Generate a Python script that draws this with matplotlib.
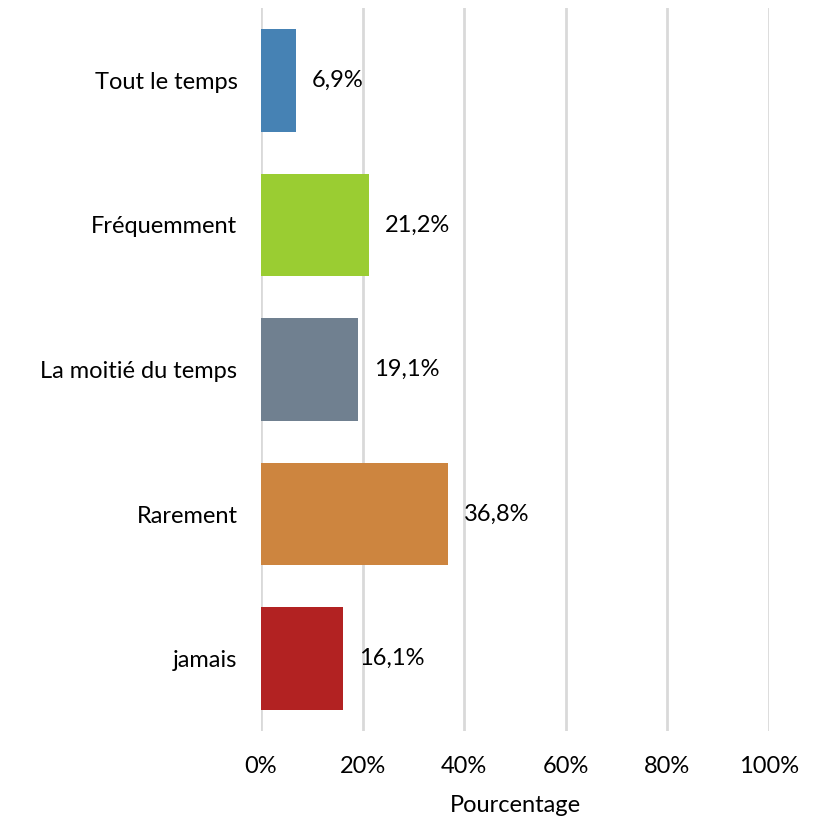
import matplotlib.pyplot as plt
from matplotlib.ticker import FuncFormatter

# Data
categories = ["Tout le temps", "Fréquemment", "La moitié du temps", "Rarement", "jamais"]
values = [6.9, 21.2, 19.1, 36.8, 16.1]
colors = ["#4682B4", "#9ACD32", "#708090", "#CD853F", "#B22222"]
xticks = [0, 20, 40, 60, 80, 100]

plt.rcParams["font.family"] = ["Lato", "DejaVu Sans"]
fs = 17

fig = plt.figure(figsize=(8.14, 8.19), dpi=100)
ax = fig.add_axes([261 / 814, 1 - 731 / 819, (769 - 261) / 814, (731 - 8) / 819])

ypos = list(range(len(categories)))
ax.barh(ypos, values, height=0.71, color=colors, zorder=3)
ax.set_ylim(len(categories) - 0.5, -0.5)
ax.set_yticks(ypos)
ax.set_yticklabels(categories, fontsize=fs)

ax.set_xlim(0, 100)
ax.set_xticks(xticks)
ax.xaxis.set_major_formatter(FuncFormatter(lambda v, p: f"{v:.0f}%"))
ax.tick_params(axis="x", labelsize=fs, length=0, pad=18)
ax.tick_params(axis="y", length=0, pad=17)
ax.set_xlabel("Pourcentage", fontsize=fs, labelpad=13)

ax.grid(axis="x", color="#D9D9D9", linewidth=2, zorder=0)
for s in ax.spines.values():
    s.set_visible(False)

# Value labels
for i, v in enumerate(values):
    ax.text(v + 3.1, i, f"{v:.1f}%".replace(".", ","), va="center", ha="left", fontsize=fs, zorder=4)

fig.savefig("out.png", dpi=100)
